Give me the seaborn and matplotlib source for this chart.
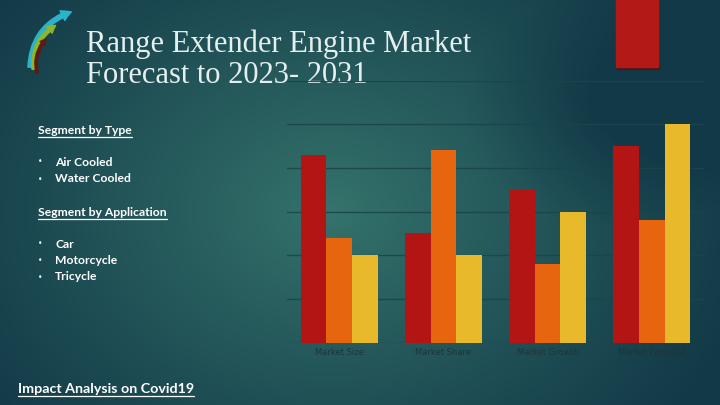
import numpy as np
import pandas as pd
import matplotlib
matplotlib.use("Agg")
import matplotlib.pyplot as plt
import seaborn as sns
from matplotlib.patches import Rectangle, FancyArrowPatch
from matplotlib.lines import Line2D

# ---- data ----
categories = ["Market Size", "Market Share", "Market Growth", "Market Forecast"]
series_names = ["Series 1", "Series 2", "Series 3"]
series1 = [4.3, 2.5, 3.5, 4.5]
series2 = [2.4, 4.4, 1.8, 2.8]
series3 = [2.0, 2.0, 3.0, 5.0]
title_lines = ["Range Extender Engine Market", "Forecast to 2023- 2031"]
seg_type = ["Air Cooled", "Water Cooled"]
seg_app = ["Car", "Motorcycle", "Tricycle"]

colors = ["#b31515", "#e8650f", "#e8b92a"]

df = pd.DataFrame({
    "category": categories * 3,
    "series": [s for s in series_names for _ in categories],
    "value": series1 + series2 + series3,
})

sns.set_theme(style="white")
plt.rcParams["font.family"] = ["DejaVu Sans"]

W, H = 720, 405
fig = plt.figure(figsize=(7.2, 4.05), dpi=100)

# ---- background gradient ----
bg = fig.add_axes([0, 0, 1, 1])
yy, xx = np.mgrid[0:H, 0:W]
d1 = np.sqrt(((xx - 330) / 330.0) ** 2 + ((yy - 210) / 260.0) ** 2)
t = np.clip(d1, 0, 1.3) / 1.3
d2 = np.sqrt(((xx - 620) / 160.0) ** 2 + ((yy - 110) / 120.0) ** 2)
s = np.clip(1 - d2, 0, 1) * 0.35
c_in = np.array([0x35, 0x74, 0x6c]) / 255
c_out = np.array([0x12, 0x39, 0x47]) / 255
tt = np.clip(t ** 0.9 + s, 0, 1)[..., None]
img = c_in * (1 - tt) + c_out * tt
bg.imshow(img, extent=[0, W, H, 0], aspect="auto", interpolation="bilinear")
bg.set_xlim(0, W)
bg.set_ylim(H, 0)
bg.axis("off")

# ---- decorative red bar top-right ----
bg.add_patch(Rectangle((617, 66), 42, 3, color="#5a0a0a", alpha=0.6, zorder=2))
bg.add_patch(Rectangle((616, -2), 42, 69, color="#b31a17", zorder=3))

# ---- logo ----
arrows = [
    ((30, 70), (74, 11), "#2bb3c9", 7, -0.36),
    ((34, 72), (58, 24), "#8db62a", 5.5, -0.33),
    ((38, 76), (48, 37), "#5e1a14", 4, -0.3),
]
for (p0, p1, col, w, rad) in arrows:
    a = FancyArrowPatch(p0, p1, connectionstyle=f"arc3,rad={rad}",
                        arrowstyle=f"simple,head_width={w*1.1},head_length={w*1.0},tail_width={w*0.45}",
                        color=col, zorder=4, mutation_scale=1)
    bg.add_patch(a)

# ---- titles ----
bg.text(86, 52, title_lines[0], fontsize=22, family="Liberation Serif",
        color="#e6efef", va="baseline", ha="left")
bg.text(86, 83, title_lines[1], fontsize=22, family="Liberation Serif",
        color="#e6efef", va="baseline", ha="left")

# ---- left text ----
txt_kw = dict(fontsize=8.7, family="Lato", weight="bold", color="white", va="center", ha="left")
bul_kw = dict(fontsize=5.5, family="DejaVu Sans", color="white", va="center", ha="left")
underlined = []
underlined.append(bg.text(38, 130, "Segment by Type", **txt_kw))
for i, s_ in enumerate(seg_type):
    y = 162 + i * 17
    bg.text(38, y, "\u2022", **bul_kw)
    bg.text(55, y, s_, **txt_kw)
underlined.append(bg.text(38, 212, "Segment by Application", **txt_kw))
for i, s_ in enumerate(seg_app):
    y = 244 + i * 16.5
    bg.text(38, y, "\u2022", **bul_kw)
    bg.text(55, y, s_, **txt_kw)
underlined.append(bg.text(18, 389, "Impact Analysis on Covid19", fontsize=10.3,
                          family="Lato", weight="bold", color="white",
                          va="center", ha="left"))

fig.canvas.draw()
r = fig.canvas.get_renderer()
for tx in underlined:
    bb = tx.get_window_extent(renderer=r)
    yline = H - bb.y0 + 1.0
    bg.add_line(Line2D([bb.x0, bb.x1], [yline, yline], color="white", lw=0.9, zorder=5))

# ---- bar chart ----
ax = fig.add_axes([287 / W, 1 - 342.7 / H, 417 / W, (342.7 - 80.5) / H])
ax.patch.set_alpha(0)
sns.barplot(data=df, x="category", y="value", hue="series", palette=colors,
            width=0.74, saturation=1, ax=ax, legend=False, zorder=3,
            linewidth=0, edgecolor="none")
ax.set_ylim(0, 6)
ax.set_yticks(range(0, 7))
ax.set_xlim(-0.5, 3.5)
for yv in range(0, 7):
    ax.axhline(yv, color="#1b454c", lw=1.0, zorder=1, alpha=0.9)
ax.grid(False)
for sp in ax.spines.values():
    sp.set_visible(False)
ax.set_yticklabels([])
ax.tick_params(axis="y", length=0)
ax.tick_params(axis="x", length=0, pad=4, labelsize=6, labelcolor="#1c353a")
ax.set_xlabel("")
ax.set_ylabel("")

fig.savefig("out.png", dpi=100)
